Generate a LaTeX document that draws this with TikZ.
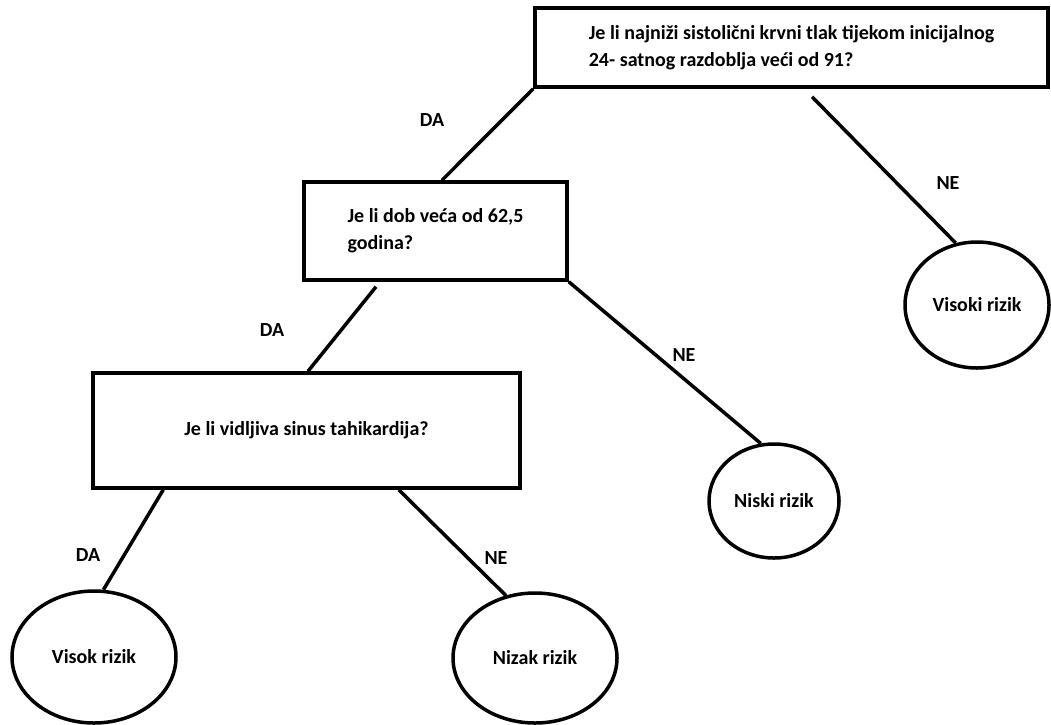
\documentclass[tikz,border=0pt]{standalone}
\usepackage{fontspec}
\setmainfont{Carlito}
\usetikzlibrary{shapes.geometric}
\begin{document}
\begin{tikzpicture}[x=1pt, y=-1pt,
    font=\fontsize{20}{27}\selectfont\bfseries,
    pitanje/.style={draw, line width=3.5pt, rectangle, inner sep=0pt, align=left},
    ishod/.style={draw, line width=3.5pt, ellipse, inner sep=0pt},
    grana/.style={line width=3.5pt}]
  \useasboundingbox (0,0) rectangle (1051,724);
  % pitanja
  \node[pitanje, minimum width=513pt, minimum height=79pt] (q1) at (791.5,47.5)
    {Je li najniži sistolični krvni tlak tijekom inicijalnog\\24- satnog razdoblja veći od 91?};
  \node[pitanje, minimum width=263pt, minimum height=98pt] (q2) at (435.5,231)
    {Je li dob veća od 62,5\\godina?};
  \node[pitanje, minimum width=427pt, minimum height=115pt] (q3) at (306.5,430.5)
    {Je li vidljiva sinus tahikardija?};
  % ishodi
  \node[ishod, minimum width=144pt, minimum height=126pt] (visoki) at (977,305) {Visoki rizik};
  \node[ishod, minimum width=130pt, minimum height=114pt] (niski) at (774,501) {Niski rizik};
  \node[ishod, minimum width=164pt, minimum height=132pt] (visok) at (94,657) {Visok rizik};
  \node[ishod, minimum width=164pt, minimum height=130pt] (nizak) at (535,658) {Nizak rizik};
  % grane
  \draw[grana] (q1.south west) -- ([xshift=6.5pt]q2.north);
  \draw[grana] ([xshift=20.5pt, yshift=-8pt]q1.south) -- (visoki.109);
  \draw[grana] ([xshift=-59.5pt, yshift=-5pt]q2.south) -- ([xshift=1.5pt]q3.north);
  \draw[grana] (q2.south east) -- (niski.103);
  \draw[grana] ([xshift=72pt]q3.south west) -- (visok.82);
  \draw[grana] ([xshift=-123pt]q3.south east) -- (nizak.115);
  % oznake
  \foreach \ime/\px/\py/\et in {
    da1/432/120/DA, ne1/948/183/NE,
    da2/272/330/DA, ne2/684/355/NE,
    da3/88/555/DA,  ne3/496/558/NE}
    {
      \node (\ime) at (\px,\py) {\et};
    }
\end{tikzpicture}
\end{document}
